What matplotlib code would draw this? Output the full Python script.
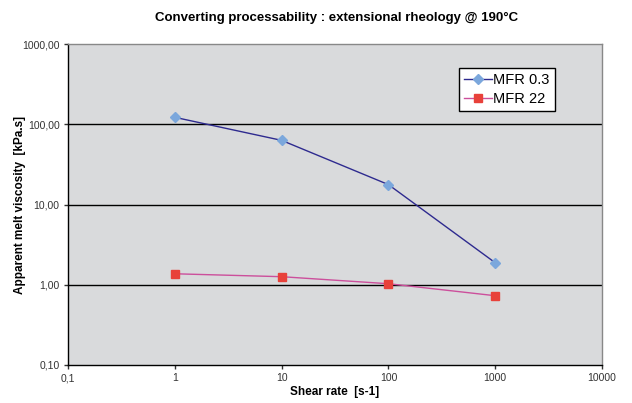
import matplotlib
matplotlib.use('Agg')
import matplotlib.pyplot as plt
from matplotlib.ticker import FixedLocator, FuncFormatter, NullLocator

plt.rcParams['font.family'] = ['Liberation Sans', 'DejaVu Sans']

shear_rate = [1, 10, 100, 1000]
mfr03 = [122, 63, 17.7, 1.88]
mfr22 = [1.37, 1.26, 1.03, 0.73]
x_ticks = [0.1, 1, 10, 100, 1000, 10000]
x_labels = ['0,1', '1', '10', '100', '1000', '10000']
y_ticks = [0.1, 1, 10, 100, 1000]
y_labels = ['0,10', '1,00', '10,00', '100,00', '1000,00']

fig = plt.figure(figsize=(6.32, 4.03), dpi=100, facecolor='white')
ax = fig.add_axes([0.1076, 0.0943, 0.845, 0.7965])
ax.set_facecolor('#d9dadc')
ax.set_xscale('log')
ax.set_yscale('log')
ax.set_xlim(0.1, 10000)
ax.set_ylim(0.1, 1000)

# gridlines at major decades
for v in [1, 10, 100]:
    ax.axhline(v, color='black', lw=1.0, zorder=1)

ax.plot(shear_rate, mfr03, color='#2e2a8f', lw=1.0, marker='D', ms=5,
        mfc='#7ba7dc', mec='#7ba7dc', label='MFR 0.3', zorder=3)
ax.plot(shear_rate, mfr22, color='#cc4f9c', lw=1.0, marker='s', ms=6,
        mfc='#e8413a', mec='#e8413a', label='MFR 22', zorder=3)

ax.xaxis.set_major_locator(FixedLocator(x_ticks))
ax.xaxis.set_minor_locator(NullLocator())
ax.xaxis.set_major_formatter(FuncFormatter(lambda v, p: x_labels[x_ticks.index(v)] if v in x_ticks else ''))
ax.yaxis.set_major_locator(FixedLocator(y_ticks))
ax.yaxis.set_minor_locator(NullLocator())
ax.yaxis.set_major_formatter(FuncFormatter(lambda v, p: y_labels[y_ticks.index(v)] if v in y_ticks else ''))
ax.tick_params(axis='both', labelsize=7.5, colors='#333333', length=3, width=1,
               direction='out', pad=3)

ax.spines['left'].set_color('black')
ax.spines['bottom'].set_color('black')
ax.spines['top'].set_color('#888888')
ax.spines['right'].set_color('#888888')
for s in ax.spines.values():
    s.set_linewidth(1.0)

ax.set_xlabel('Shear rate  [s-1]', fontsize=8.5, fontweight='bold')
ax.xaxis.set_label_coords(0.5, -0.066)
ax.set_ylabel('Apparent melt viscosity  [kPa.s]', fontsize=8.5, fontweight='bold')
ax.yaxis.set_label_coords(-0.078, 0.5)
fig.text(0.532, 0.955, 'Converting processability : extensional rheology @ 190°C',
         ha='center', va='center', fontsize=9.5, fontweight='bold')

leg = ax.legend(loc='upper left', bbox_to_anchor=(0.732, 0.925), fontsize=10.5,
                frameon=True, fancybox=False, edgecolor='black', framealpha=1,
                handlelength=1.9, borderpad=0.35, labelspacing=0.35, handletextpad=0.1,
                borderaxespad=0)
leg.get_frame().set_linewidth(1.0)

fig.savefig('out.png', dpi=100)
